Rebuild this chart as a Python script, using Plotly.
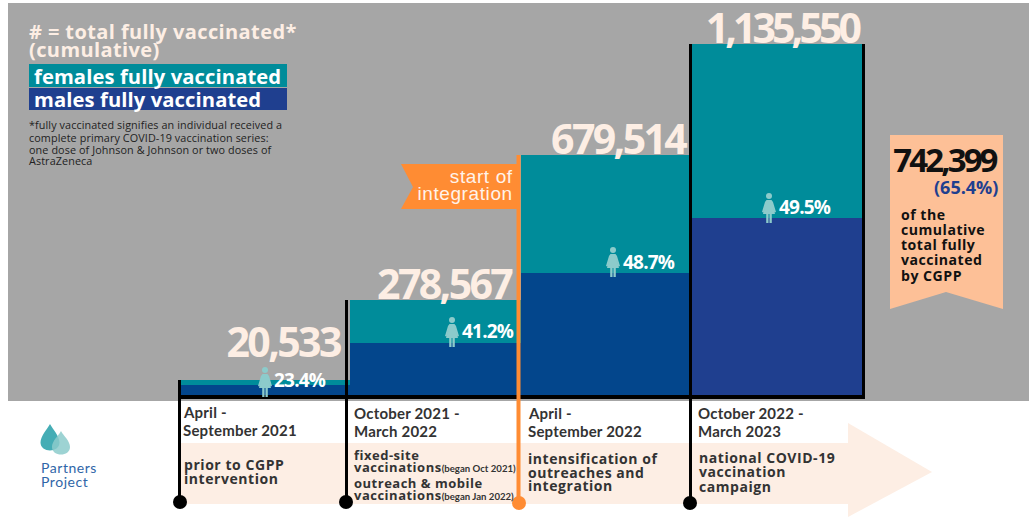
import plotly.graph_objects as go

W, H = 1029, 517

periods = ["Apr-Sep 2021", "Oct 2021-Mar 2022", "Apr-Sep 2022", "Oct 2022-Mar 2023"]
# Stated cumulative totals and female shares, as printed on the chart
total_labels = ["20,533", "278,567", "679,514", "1,135,550"]
female_pct = ["23.4%", "41.2%", "48.7%", "49.5%"]
# Segment sizes (the original is not drawn strictly to scale)
males_drawn = [38600, 173700, 398900, 575800]
females_drawn = [16000, 138300, 379600, 559700]

TEAL = "#008c9a"
MALE = ["#03468c", "#03468c", "#03468c", "#1f3f8f"]
GRAY = "#a6a6a6"
PEACH = "#fdeee4"
ORANGE = "#ff8c33"
INK = "#333333"

def X(x): return x / W
def Y(y): return 1 - y / H

def poly(pts, fill, layer="above"):
    d = "M" + " L".join(f"{X(a):.5f},{Y(b):.5f}" for a, b in pts) + " Z"
    return dict(type="path", path=d, xref="paper", yref="paper", fillcolor=fill,
                line=dict(width=0), layer=layer)

def rect(x0, y0, x1, y1, fill, layer="below"):
    return dict(type="rect", xref="paper", yref="paper", x0=X(x0), x1=X(x1), y0=Y(y0), y1=Y(y1),
                fillcolor=fill, line=dict(width=0), layer=layer)

def vline(x, y0, y1, color, w=3):
    return dict(type="line", xref="paper", yref="paper", x0=X(x), x1=X(x), y0=Y(y0), y1=Y(y1),
                line=dict(color=color, width=w), layer="above")

def dot(x, y, r, color):
    return dict(type="circle", xref="paper", yref="paper", x0=X(x - r), x1=X(x + r),
                y0=Y(y + r), y1=Y(y - r), fillcolor=color, line=dict(width=0), layer="above")

def txt(x, y, s, size, color=INK, anchor="left", font="Open Sans", bold=True):
    return dict(x=X(x), y=Y(y), xref="paper", yref="paper", text=f"<b>{s}</b>" if bold else s,
                showarrow=False, xanchor=anchor, yanchor="middle", borderpad=0, borderwidth=0,
                font=dict(family=font, size=size, color=color))

def woman(cx, top):
    c = "#8ccbcb"
    out = [dot(cx, top + 3, 3, c)]
    out.append(poly([(cx - 2.5, top + 7), (cx + 2.5, top + 7), (cx + 4, top + 9), (cx + 7, top + 19),
                     (cx + 5.5, top + 19.5), (cx + 3.5, top + 13), (cx + 6, top + 21), (cx + 2.8, top + 21),
                     (cx + 2.8, top + 30), (cx + 0.5, top + 30), (cx + 0.5, top + 21), (cx - 0.5, top + 21),
                     (cx - 0.5, top + 30), (cx - 2.8, top + 30), (cx - 2.8, top + 21), (cx - 6, top + 21),
                     (cx - 3.5, top + 13), (cx - 5.5, top + 19.5), (cx - 7, top + 19), (cx - 4, top + 9)], c))
    return out

def drop(cx, tip, bottom, r, color, opacity):
    mid = bottom - r
    d = (f"M{X(cx):.5f},{Y(tip):.5f} C{X(cx+r*0.3):.5f},{Y(tip+5):.5f} {X(cx+r):.5f},{Y(mid-6):.5f} {X(cx+r):.5f},{Y(mid):.5f} "
         f"C{X(cx+r):.5f},{Y(bottom+1):.5f} {X(cx-r):.5f},{Y(bottom+1):.5f} {X(cx-r):.5f},{Y(mid):.5f} "
         f"C{X(cx-r):.5f},{Y(mid-6):.5f} {X(cx-r*0.3):.5f},{Y(tip+5):.5f} {X(cx):.5f},{Y(tip):.5f} Z")
    return dict(type="path", path=d, xref="paper", yref="paper", fillcolor=color, opacity=opacity,
                line=dict(width=0), layer="above")

fig = go.Figure()
fig.add_bar(x=periods, y=males_drawn, marker=dict(color=MALE, line=dict(width=0)), hoverinfo="skip")
fig.add_bar(x=periods, y=females_drawn, marker=dict(color=TEAL, line=dict(width=0)), hoverinfo="skip")

shapes = [
    rect(8, 3, W, 401, GRAY),
    rect(180, 443, 848, 504, PEACH),
    poly([(848, 423), (932, 472), (848, 517)], PEACH, "below"),
    rect(29, 64, 287, 87, TEAL),
    rect(29, 88, 287, 110, "#1f3f8f"),
    poly([(401, 164), (518, 164), (518, 209), (401, 209), (413, 187)], ORANGE),
    poly([(890, 135), (1003, 135), (1003, 309), (946, 292), (890, 309)], "#fdc097"),
    dict(type="line", xref="paper", yref="paper", x0=X(178), x1=X(865), y0=Y(397), y1=Y(397),
         line=dict(color="black", width=4), layer="above"),
    vline(179.5, 380, 501, "black"),
    vline(346.5, 300, 501, "black"),
    vline(690.5, 44, 502, "black"),
    vline(863.5, 44, 398, "black"),
    vline(518.5, 155, 503, ORANGE, 4),
    dot(180, 502, 7, "black"),
    dot(346, 502, 7, "black"),
    dot(519, 503, 7, ORANGE),
    dot(690, 503, 7, "black"),
    drop(50, 424, 452, 9.5, "#45adb5", 1),
    drop(61, 431, 456, 9, "#8ccbcb", 0.85),
]
for cx, top in zip([265, 452, 613, 769], [367, 317, 247, 193]):
    shapes += woman(cx, top)

ann = [
    txt(29, 31, "# = total fully vaccinated*", 20, PEACH),
    txt(29, 50, "(cumulative)", 20, PEACH),
    txt(34, 76, "females fully vaccinated", 20.2, "white"),
    txt(34, 99, "males fully vaccinated", 20.2, "white"),
    txt(29, 125, "*fully vaccinated signifies an individual received a", 10.8, "#222222", bold=False),
    txt(29, 137, "complete primary COVID-19 vaccination series:", 10.8, "#222222", bold=False),
    txt(29, 149, "one dose of Johnson &amp; Johnson or two doses of", 10.8, "#222222", bold=False),
    txt(29, 161, "AstraZeneca", 10.8, "#222222", bold=False),
    txt(513, 176, "start of", 19, "#fff3ea", "right", "Liberation Sans", False),
    txt(513, 194, "integration", 19, "#fff3ea", "right", "Liberation Sans", False),
    txt(998, 159, "742,399", 33, "#111111", "right"),
    txt(998, 187, "(65.4%)", 18, "#1f3f8f", "right"),
    txt(41, 467, "Partners", 14, "#2f66a8", font="Lato", bold=False),
    txt(41, 481, "Project", 14, "#2f66a8", font="Lato", bold=False),
]
for y, s in zip([214, 229, 244, 259, 275], ["of the", "cumulative", "total fully", "vaccinated", "by CGPP"]):
    ann.append(txt(901, y, s, 14.1, "#111111"))

for s, rx, y in zip(total_labels, [341, 513, 687, 860], [341, 283, 138, 27]):
    ann.append(txt(rx, y, s, 41, PEACH, "right"))
for s, x, y in zip(female_pct, [274, 462, 623, 779], [380, 331, 262, 207]):
    ann.append(txt(x, y, s, 19, "white"))

for x, y0, lines in [(183, 412, ["April -", "September 2021"]),
                     (354, 413, ["October 2021 -", "March 2022"]),
                     (528, 413, ["April -", "September 2022"]),
                     (698, 413, ["October 2022 -", "March 2023"])]:
    for k, s in enumerate(lines):
        ann.append(txt(x, y0 + 18 * k, s, 15, INK, font="Lato"))

small = "<span style='font-size:9.6px;font-family:Lato'>{}</span>"
for x, y, s, size in [(184, 464, "prior to CGPP", 14), (184, 478, "intervention", 14),
                      (354, 455, "fixed-site", 13), (354, 467, "vaccinations" + small.format("(began Oct 2021)"), 13),
                      (354, 483, "outreach &amp; mobile", 13), (354, 495, "vaccinations" + small.format("(began Jan 2022)"), 13),
                      (528, 458, "intensification of", 14), (528, 472, "outreaches and", 14), (528, 485, "integration", 14),
                      (699, 457, "national COVID-19", 14), (699, 471, "vaccination", 14), (699, 486, "campaign", 14)]:
    ann.append(txt(x, y, s, size, INK))

fig.update_layout(
    width=W, height=H, margin=dict(l=0, r=0, t=0, b=0), showlegend=False,
    barmode="stack", bargap=0,
    paper_bgcolor="white", plot_bgcolor="rgba(0,0,0,0)",
    xaxis=dict(domain=[X(179), X(863)], visible=False, type="category", range=[-0.5, 3.5], fixedrange=True),
    yaxis=dict(domain=[Y(397), Y(44)], visible=False, range=[0, 1135500], fixedrange=True),
    shapes=shapes, annotations=ann,
)

# Page margin off, and the tracking of the original lettering per text size,
# keeping each text's left or right edge where its annotation puts it
post = """
document.body.style.margin = '0';
var track = {'41': -2.6, '33': -2.9, '19': -0.8, '20': 0.4, '20.2': 0.1, '14': 0.55, '13': 0.5, '14.1': 0.5, '15': 0.2, '10.8': 0.1};
var rightSizes = {'41': 1, '33': 1, '18': 1};
document.querySelectorAll('.annotation-text').forEach(function (t) {
  var k = String(parseFloat(t.style.fontSize));
  var lib = t.style.fontFamily.indexOf('Liberation') >= 0;
  var sp = lib ? 0.6 : track[k];
  if (sp === undefined) return;
  if (k === '41' && t.textContent.length > 8) sp = -3.9;
  var a = t.getBBox();
  t.style.letterSpacing = sp + 'px';
  t.querySelectorAll('tspan').forEach(function (s) {
    if (parseFloat(s.style.fontSize) === 9.6) s.style.letterSpacing = '0';
  });
  var b = t.getBBox();
  var dx = (lib || rightSizes[k]) ? (a.x + a.width) - (b.x + b.width) : a.x - b.x;
  t.setAttribute('transform', 'translate(' + dx + ',0)');
});
"""
fig.write_html("out.html", config={"displayModeBar": False, "responsive": False}, post_script=post)
